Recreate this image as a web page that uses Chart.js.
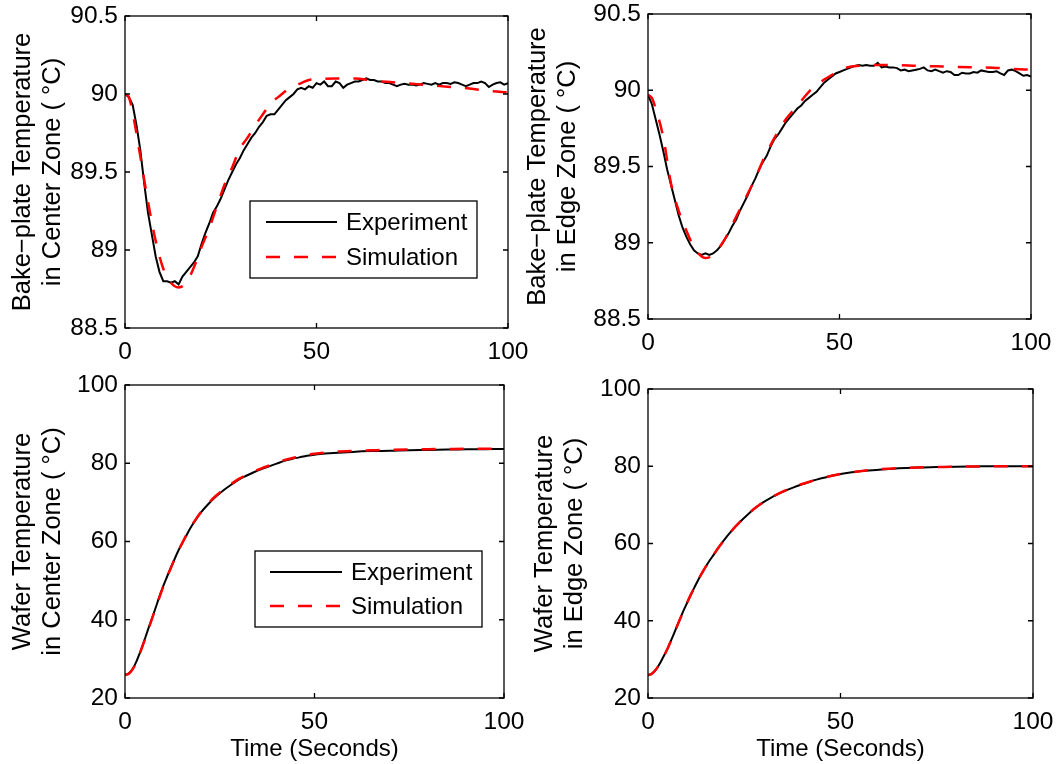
<!DOCTYPE html>
<html>
<head>
<meta charset="utf-8">
<script src="https://cdn.jsdelivr.net/npm/chart.js@4.4.1/dist/chart.umd.min.js"></script>
<style>
  html, body { margin: 0; padding: 0; background: #fff; }
  body { width: 1060px; height: 764px; position: relative; overflow: hidden; }
  canvas { position: absolute; }
</style>
</head>
<body>
<canvas id="c1"></canvas>
<canvas id="c2"></canvas>
<canvas id="c3"></canvas>
<canvas id="c4"></canvas>
<script>
// ---------------- DATA ----------------
const seriesNames = ['Experiment', 'Simulation'];
const xTickLabels = [0, 50, 100];
const bakeTickLabels = [88.5, 89, 89.5, 90, 90.5];
const waferTickLabels = [20, 40, 60, 80, 100];

// 1-second sampled experiment time (bake plate)
const expTime = [0,1,2,3,4,5,6,7,8,9,10,11,12,13,14,15,16,17,18,19,20,21,22,23,24,25,26,27,28,29,30,31,32,33,34,35,36,37,38,39,40,41,42,43,44,45,46,47,48,49,50,51,52,53,54,55,56,57,58,59,60,61,62,63,64,65,66,67,68,69,70,71,72,73,74,75,76,77,78,79,80,81,82,83,84,85,86,87,88,89,90,91,92,93,94,95,96,97,98,99,100];

// Bake-plate, center zone
const bakeCenterExp = [90.00,89.98,89.93,89.80,89.64,89.43,89.24,89.10,88.96,88.86,88.80,88.80,88.79,88.80,88.78,88.83,88.86,88.89,88.92,88.96,89.04,89.11,89.17,89.24,89.28,89.33,89.39,89.45,89.50,89.55,89.59,89.64,89.68,89.72,89.75,89.79,89.82,89.86,89.87,89.87,89.90,89.93,89.96,89.98,90.00,90.03,90.04,90.03,90.05,90.04,90.07,90.06,90.08,90.05,90.05,90.08,90.07,90.04,90.06,90.07,90.08,90.08,90.09,90.10,90.09,90.09,90.08,90.08,90.07,90.07,90.06,90.05,90.06,90.065,90.06,90.06,90.055,90.06,90.07,90.065,90.06,90.07,90.06,90.07,90.07,90.065,90.075,90.07,90.06,90.05,90.06,90.07,90.07,90.08,90.07,90.045,90.06,90.07,90.075,90.06,90.07];
const bakeCenterSimTime = [0,1,2,4,6,8,10,12,14,16,18,20,22,24,26,28,30,32,34,36,38,40,42,44,46,48,50,55,60,65,70,75,80,85,90,95,100];
const bakeCenterSim = [90.00,89.98,89.88,89.60,89.31,89.06,88.88,88.79,88.76,88.79,88.89,89.02,89.14,89.28,89.42,89.53,89.65,89.72,89.80,89.87,89.94,89.98,90.02,90.05,90.07,90.09,90.095,90.10,90.10,90.085,90.075,90.065,90.055,90.045,90.035,90.02,90.01];

// Bake-plate, edge zone
const bakeEdgeExp = [89.97,89.91,89.81,89.71,89.60,89.48,89.38,89.28,89.18,89.10,89.04,88.99,88.95,88.93,88.92,88.93,88.92,88.93,88.95,88.98,89.02,89.06,89.11,89.15,89.21,89.26,89.31,89.37,89.42,89.48,89.53,89.57,89.63,89.68,89.71,89.75,89.79,89.82,89.85,89.88,89.90,89.93,89.95,89.97,89.99,90.02,90.05,90.07,90.09,90.11,90.12,90.13,90.14,90.15,90.16,90.165,90.16,90.165,90.16,90.16,90.18,90.15,90.155,90.15,90.15,90.145,90.13,90.135,90.125,90.13,90.135,90.14,90.15,90.13,90.125,90.135,90.125,90.115,90.125,90.12,90.10,90.10,90.115,90.11,90.11,90.12,90.115,90.13,90.125,90.12,90.12,90.125,90.11,90.10,90.13,90.135,90.125,90.11,90.095,90.10,90.09];
const bakeEdgeSimTime = [0,1,2,4,6,8,10,12,14,15,16,18,20,22,24,26,28,30,32,34,36,38,40,42,44,46,48,50,52,55,60,65,70,75,80,85,90,95,100];
const bakeEdgeSim = [89.97,89.95,89.88,89.69,89.39,89.21,89.08,88.97,88.91,88.90,88.905,88.95,89.02,89.12,89.22,89.32,89.42,89.54,89.64,89.73,89.81,89.87,89.93,89.99,90.03,90.07,90.10,90.13,90.15,90.16,90.165,90.165,90.16,90.157,90.153,90.15,90.148,90.14,90.135];

// Wafer time samples
const waferTime = [0,1,2,3,4,5,6,7,8,9,10,11,12,13,14,15,16,17,18,20,22,24,26,28,30,32,34,36,38,40,42,44,46,48,50,55,60,65,70,75,80,85,90,95,100];

// Wafer, center zone
const waferCenterExp = [25.9,26.3,27.4,29.3,31.7,34.4,37.3,40.0,42.8,45.7,48.4,50.8,53.1,55.3,57.5,59.4,61.2,63.0,64.6,67.4,69.6,71.5,73.1,74.5,75.8,76.8,77.7,78.5,79.2,79.9,80.6,81.1,81.5,81.9,82.2,82.6,82.9,83.1,83.2,83.35,83.4,83.5,83.55,83.6,83.65];
const waferCenterSim = [25.9,26.2,27.3,29.2,31.6,34.3,37.1,39.9,42.7,45.5,48.2,50.7,53.0,55.3,57.5,59.4,61.3,63.1,64.7,67.5,69.8,71.7,73.3,74.7,76.0,77.0,77.9,78.7,79.4,80.1,80.8,81.3,81.7,82.1,82.4,82.9,83.15,83.3,83.45,83.55,83.6,83.65,83.7,83.7,83.7];

// Wafer, edge zone
const waferEdgeExp = [25.9,26.3,27.3,28.8,30.7,32.6,34.9,37.3,39.7,42.1,44.3,46.5,48.5,50.5,52.3,54.0,55.6,57.0,58.5,61.2,63.6,65.7,67.6,69.3,70.7,71.9,72.9,73.8,74.6,75.3,76.0,76.6,77.1,77.6,78.0,78.7,79.1,79.5,79.7,79.8,79.9,79.95,80.0,80.0,80.0];
const waferEdgeSim = [25.9,26.3,27.3,28.8,30.6,32.6,34.9,37.3,39.7,42.0,44.3,46.5,48.5,50.5,52.3,54.0,55.6,57.0,58.5,61.2,63.6,65.7,67.6,69.3,70.7,71.9,73.0,73.9,74.7,75.4,76.0,76.6,77.1,77.6,78.0,78.7,79.2,79.5,79.7,79.8,79.9,79.95,80.0,80.0,80.0];

// ---------------- HELPERS ----------------
const FONT = "'Liberation Sans', Arial, Helvetica, sans-serif";
Chart.defaults.font.family = FONT;
Chart.defaults.font.size = 24;
Chart.defaults.color = '#000';

function pts(xs, ys) { return xs.map((x, i) => ({ x: x, y: ys[i] })); }

const matlabBox = {
  id: 'matlabBox',
  afterDatasetsDraw(chart, args, opts) {
    const { ctx, chartArea: a, scales } = chart;
    const x = scales.x, y = scales.y;
    ctx.save();
    ctx.strokeStyle = '#000';
    ctx.lineWidth = 1.3;
    ctx.setLineDash([]);
    ctx.strokeRect(a.left, a.top, a.right - a.left, a.bottom - a.top);
    const L = 5;
    ctx.beginPath();
    x.ticks.forEach(t => {
      const px = x.getPixelForValue(t.value);
      ctx.moveTo(px, a.bottom); ctx.lineTo(px, a.bottom - L);
      ctx.moveTo(px, a.top); ctx.lineTo(px, a.top + L);
    });
    y.ticks.forEach(t => {
      const py = y.getPixelForValue(t.value);
      ctx.moveTo(a.left, py); ctx.lineTo(a.left + L, py);
      ctx.moveTo(a.right, py); ctx.lineTo(a.right - L, py);
    });
    ctx.stroke();

    const lg = opts.legend;
    if (lg) {
      const bx = a.left + lg.dx, by = a.top + lg.dy;
      ctx.fillStyle = '#fff';
      ctx.fillRect(bx, by, lg.w, lg.h);
      ctx.lineWidth = 1.3;
      ctx.strokeRect(bx, by, lg.w, lg.h);
      ctx.font = '24px ' + FONT;
      ctx.textBaseline = 'middle';
      ctx.textAlign = 'left';
      chart.data.datasets.forEach((ds, i) => {
        const ry = by + lg.rows[i];
        ctx.beginPath();
        ctx.strokeStyle = ds.borderColor;
        ctx.lineWidth = ds.borderWidth;
        ctx.setLineDash(ds.borderDash || []);
        ctx.moveTo(bx + lg.lineX0, ry);
        ctx.lineTo(bx + lg.lineX1, ry);
        ctx.stroke();
        ctx.setLineDash([]);
        ctx.fillStyle = '#000';
        ctx.fillText(ds.label, bx + lg.textX, ry + 1);
      });
    }
    ctx.restore();
  }
};

function makeChart(id, cfg) {
  const cv = document.getElementById(id);
  cv.width = cfg.w; cv.height = cfg.h;
  cv.style.left = cfg.left + 'px'; cv.style.top = cfg.top + 'px';
  cv.style.width = cfg.w + 'px'; cv.style.height = cfg.h + 'px';
  return new Chart(cv.getContext('2d'), {
    type: 'line',
    data: {
      datasets: [
        {
          label: seriesNames[0],
          data: pts(cfg.expX, cfg.expY),
          borderColor: '#000000',
          borderWidth: 2,
          pointRadius: 0,
          tension: cfg.smoothExp ? 0.4 : 0,
          cubicInterpolationMode: cfg.smoothExp ? 'monotone' : 'default',
          fill: false,
          order: 1
        },
        {
          label: seriesNames[1],
          data: pts(cfg.simX, cfg.simY),
          borderColor: '#ff0000',
          borderWidth: 2.5,
          borderDash: [14, 14],
          pointRadius: 0,
          tension: 0.4,
          cubicInterpolationMode: 'monotone',
          fill: false,
          order: 0
        }
      ]
    },
    options: {
      responsive: false,
      devicePixelRatio: 1,
      animation: false,
      events: [],
      layout: { padding: cfg.pad },
      plugins: {
        legend: { display: false },
        tooltip: { enabled: false },
        matlabBox: { legend: cfg.legend || null }
      },
      scales: {
        x: {
          type: 'linear',
          min: 0, max: 100,
          afterBuildTicks: s => { s.ticks = xTickLabels.map(v => ({ value: v })); },
          afterFit: s => { s.height = cfg.xH; s.paddingLeft = 0; s.paddingRight = 0; },
          grid: { display: false, drawTicks: false },
          border: { display: false },
          ticks: { padding: 10, maxRotation: 0, autoSkip: false, color: '#000', font: { size: 24.5 },
                   callback: v => String(v) },
          title: cfg.xTitle ? { display: true, text: cfg.xTitle, color: '#000',
                   font: { size: 24, lineHeight: 1.2 }, padding: { top: 0, bottom: 0 } } : { display: false }
        },
        y: {
          type: 'linear',
          min: cfg.yTicks[0], max: cfg.yTicks[cfg.yTicks.length - 1],
          afterBuildTicks: s => { s.ticks = cfg.yTicks.map(v => ({ value: v })); },
          afterFit: s => { s.width = cfg.yW; s.paddingTop = 0; s.paddingBottom = 0; },
          grid: { display: false, drawTicks: false },
          border: { display: false },
          ticks: { padding: 7, color: '#000', font: { size: 24.5 }, callback: v => String(v) },
          title: { display: true, text: cfg.yTitle, color: '#000',
                   font: { size: 25.5, lineHeight: 30 / 25.5 }, padding: { top: 8, bottom: 0 } }
        }
      }
    },
    plugins: [matlabBox]
  });
}

makeChart('c1', {
  left: 0, top: 0, w: 530, h: 370,
  pad: { top: 16, right: 22, bottom: 0, left: 0 }, yW: 125, xH: 42,
  expX: expTime, expY: bakeCenterExp, simX: bakeCenterSimTime, simY: bakeCenterSim,
  yTicks: bakeTickLabels,
  yTitle: ['Bake\u2212plate Temperature', 'in Center Zone ( \u00B0C)'],
  legend: { dx: 125, dy: 185, w: 227, h: 77, lineX0: 16, lineX1: 87, textX: 96, rows: [21, 56] }
});
makeChart('c2', {
  left: 515, top: 0, w: 545, h: 370,
  pad: { top: 14, right: 29, bottom: 0, left: 0 }, yW: 133, xH: 51,
  expX: expTime, expY: bakeEdgeExp, simX: bakeEdgeSimTime, simY: bakeEdgeSim,
  yTicks: bakeTickLabels,
  yTitle: ['Bake\u2212plate Temperature', 'in Edge Zone ( \u00B0C)']
});
makeChart('c3', {
  left: 0, top: 370, w: 530, h: 394,
  pad: { top: 15, right: 26, bottom: 0, left: 0 }, yW: 125, xH: 66,
  expX: waferTime, expY: waferCenterExp, simX: waferTime, simY: waferCenterSim, smoothExp: true,
  yTicks: waferTickLabels,
  yTitle: ['Wafer Temperature', 'in Center Zone ( \u00B0C)'],
  xTitle: 'Time (Seconds)',
  legend: { dx: 130, dy: 166, w: 227, h: 76, lineX0: 15, lineX1: 87, textX: 96, rows: [21, 55] }
});
makeChart('c4', {
  left: 522, top: 370, w: 538, h: 394,
  pad: { top: 19, right: 27, bottom: 0, left: 0 }, yW: 126, xH: 66,
  expX: waferTime, expY: waferEdgeExp, simX: waferTime, simY: waferEdgeSim, smoothExp: true,
  yTicks: waferTickLabels,
  yTitle: ['Wafer Temperature', 'in Edge Zone ( \u00B0C)'],
  xTitle: 'Time (Seconds)'
});
</script>
</body>
</html>
